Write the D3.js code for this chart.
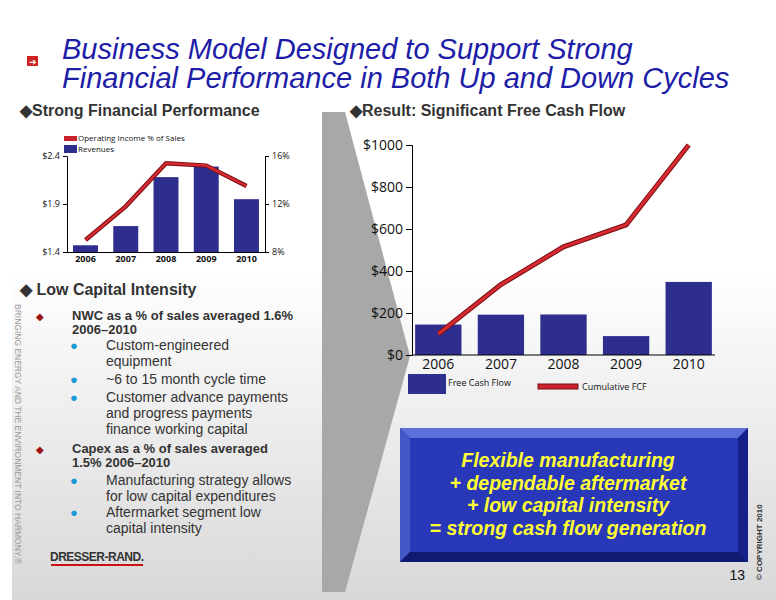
<!DOCTYPE html>
<html><head><meta charset="utf-8">
<script src="https://cdn.jsdelivr.net/npm/d3@7"></script>
<style>body{margin:0;background:#fff;font-family:"Liberation Sans",Arial,sans-serif}</style>
</head><body>
<script>
var years = ["2006", "2007", "2008", "2009", "2010"];
var revenues = [1.47, 1.67, 2.18, 2.29, 1.95];
var opIncomePct = [9.0, 11.8, 15.4, 15.2, 13.5];
var freeCashFlow = [145, 192, 193, 90, 348];
var cumulativeFCF = [100, 335, 515, 620, 1000];
var leftTicks = [1.4, 1.9, 2.4];
var rightTicks = [8, 12, 16];
var fcfTicks = [0, 200, 400, 600, 800, 1000];

var W = 776, H = 600;
var svg = d3.select("body").append("svg").attr("width", W).attr("height", H);
var defs = svg.append("defs");
var bg = defs.append("linearGradient").attr("id", "bg").attr("x1", 0).attr("y1", 0).attr("x2", 0).attr("y2", 1);
bg.append("stop").attr("offset", "0.45").attr("stop-color", "#ffffff");
bg.append("stop").attr("offset", "1").attr("stop-color", "#d8d8d8");
svg.append("rect").attr("width", W).attr("height", H).attr("fill", "url(#bg)");
svg.append("rect").attr("x", 0).attr("y", 0).attr("width", 12).attr("height", H).attr("fill", "#fff");

// grey arrow
svg.append("polygon").attr("points", "322,112 345,112 410,356 345,592 322,592").attr("fill", "#a8a8a8");

// title
svg.append("rect").attr("x", 27).attr("y", 56).attr("width", 11).attr("height", 10).attr("fill", "#cc2222");
svg.append("text").attr("x", 29).attr("y", 65).attr("font-size", 9).attr("fill", "#fff").text("➔");
var title = svg.append("text").attr("font-size", 29).attr("font-style", "italic").attr("fill", "#1d1da8");
title.append("tspan").attr("x", 62).attr("y", 59).text("Business Model Designed to Support Strong");
title.append("tspan").attr("x", 62).attr("y", 88).text("Financial Performance in Both Up and Down Cycles");

function heading(x, y, t) {
  svg.append("text").attr("x", x).attr("y", y).attr("font-size", 16).attr("font-weight", "bold").attr("fill", "#333").text("◆" + t);
}
heading(20, 116, "Strong Financial Performance");
heading(350, 116, "Result: Significant Free Cash Flow");
heading(20, 295, " Low Capital Intensity");

// left chart
var lx = d3.scaleBand().domain(years).range([67, 265]).paddingInner(0.38).paddingOuter(0.15);
var ly = d3.scaleLinear().domain([1.4, 2.4]).range([252, 156]);
var ry = d3.scaleLinear().domain([8, 16]).range([252, 156]);
var lc = svg.append("g").attr("font-family", "'Open Sans',sans-serif");
lc.selectAll("rect.rev").data(revenues).enter().append("rect")
  .attr("x", function(d, i) { return lx(years[i]); }).attr("width", lx.bandwidth())
  .attr("y", function(d) { return ly(d); }).attr("height", function(d) { return 252 - ly(d); })
  .attr("fill", "#2e2e8e");
var ga = lc.append("g").attr("transform", "translate(67,0)").call(d3.axisLeft(ly).tickValues(leftTicks).tickFormat(function(d) { return "$" + d; }).tickSize(4));
var gr = lc.append("g").attr("transform", "translate(265,0)").call(d3.axisRight(ry).tickValues(rightTicks).tickFormat(function(d) { return d + "%"; }).tickSize(4));
var gb = lc.append("g").attr("transform", "translate(0,252)").call(d3.axisBottom(lx).tickSize(0));
[ga, gr, gb].forEach(function(g) { g.attr("font-family", null); g.selectAll("text").attr("font-size", 9).attr("fill", "#111"); });
gb.selectAll("text").attr("font-weight", "bold").attr("dy", "0.8em");
var opLine = d3.line().x(function(d, i) { return lx(years[i]) + lx.bandwidth() / 2; }).y(function(d) { return ry(d); });
lc.append("path").datum(opIncomePct).attr("d", opLine).attr("fill", "none").attr("stroke", "#7a0f14").attr("stroke-width", 4.5);
lc.append("path").datum(opIncomePct).attr("d", opLine).attr("fill", "none").attr("stroke", "#d42a30").attr("stroke-width", 2.5);
lc.append("rect").attr("x", 64).attr("y", 136).attr("width", 13).attr("height", 5).attr("fill", "#c8232b");
lc.append("text").attr("x", 78).attr("y", 141).attr("font-size", 8).attr("fill", "#111").text("Operating Income % of Sales");
lc.append("rect").attr("x", 64).attr("y", 145).attr("width", 13).attr("height", 8).attr("fill", "#2e2e8e");
lc.append("text").attr("x", 78).attr("y", 152).attr("font-size", 8).attr("fill", "#111").text("Revenues");

// right chart
var fx = d3.scaleBand().domain(years).range([412, 715]).paddingInner(0.26).paddingOuter(0.05);
var fy = d3.scaleLinear().domain([0, 1000]).range([355, 145]);
var rc = svg.append("g").attr("font-family", "'Open Sans',sans-serif");
rc.selectAll("rect.fcf").data(freeCashFlow).enter().append("rect")
  .attr("x", function(d, i) { return fx(years[i]); }).attr("width", fx.bandwidth())
  .attr("y", function(d) { return fy(d); }).attr("height", function(d) { return 355 - fy(d); })
  .attr("fill", "#2e2e8e");
var fa = rc.append("g").attr("transform", "translate(412,0)").call(d3.axisLeft(fy).tickValues(fcfTicks).tickFormat(function(d) { return "$" + d; }).tickSize(6));
var fb = rc.append("g").attr("transform", "translate(0,355)").call(d3.axisBottom(fx).tickSize(0));
fb.select(".domain").attr("d", "M412,0H715");
[fa, fb].forEach(function(g) { g.attr("font-family", null); g.selectAll("text").attr("font-size", 14).attr("fill", "#111"); });
fb.selectAll("text").attr("dy", "0.75em");
var cumLine = d3.line().x(function(d, i) { return fx(years[i]) + fx.bandwidth() / 2; }).y(function(d) { return fy(d); });
rc.append("path").datum(cumulativeFCF).attr("d", cumLine).attr("fill", "none").attr("stroke", "#7a0f14").attr("stroke-width", 5);
rc.append("path").datum(cumulativeFCF).attr("d", cumLine).attr("fill", "none").attr("stroke", "#d42a30").attr("stroke-width", 3);
rc.append("rect").attr("x", 408).attr("y", 374).attr("width", 38).attr("height", 20).attr("fill", "#2e2e8e");
rc.append("text").attr("x", 448).attr("y", 386).attr("font-size", 9).attr("fill", "#111").text("Free Cash Flow");
rc.append("rect").attr("x", 538).attr("y", 384).attr("width", 40).attr("height", 5).attr("fill", "#c8232b").attr("stroke", "#7a0f14");
rc.append("text").attr("x", 582).attr("y", 390).attr("font-size", 9).attr("fill", "#111").text("Cumulative FCF");

// bullets
var bullets = [
  [true, 320, ["NWC as a % of sales averaged 1.6%", "2006–2010"]],
  [false, 350, ["Custom-engineered", "equipment"]],
  [false, 384, ["~6 to 15 month cycle time"]],
  [false, 402, ["Customer advance payments", "and progress payments", "finance working capital"]],
  [true, 453, ["Capex as a % of sales averaged", "1.5% 2006–2010"]],
  [false, 485, ["Manufacturing strategy allows", "for low capital expenditures"]],
  [false, 517, ["Aftermarket segment low", "capital intensity"]]
];
bullets.forEach(function(b) {
  var main = b[0];
  svg.append("text").attr("x", main ? 36 : 70).attr("y", b[1]).attr("font-size", main ? 10 : 13)
    .attr("fill", main ? "#a01010" : "#1a9ad6").text(main ? "◆" : "●");
  var t = svg.append("text").attr("font-size", main ? 13 : 14).attr("font-weight", main ? "bold" : "normal").attr("fill", "#333");
  b[2].forEach(function(s, i) { t.append("tspan").attr("x", main ? 72 : 106).attr("y", b[1] + i * (main ? 14 : 16)).text(s); });
});

// vertical tagline
svg.append("text").attr("transform", "translate(15,304) rotate(90)").attr("font-size", 8.5).attr("fill", "#999")
  .text("BRINGING ENERGY AND THE ENVIRONMENT INTO HARMONY.®");

// logo
svg.append("text").attr("x", 50).attr("y", 561).attr("font-size", 12).attr("font-weight", "bold").attr("fill", "#333").attr("letter-spacing", -0.5).text("DRESSER-RAND.");
svg.append("rect").attr("x", 51).attr("y", 564).attr("width", 92).attr("height", 2).attr("fill", "#cc1111");

// blue box
var bx = 400, by = 428, bw = 348, bh = 134, e = 10;
svg.append("rect").attr("x", bx).attr("y", by).attr("width", bw).attr("height", bh).attr("fill", "#1e2ea8");
svg.append("polygon").attr("points", [[bx, by], [bx + bw, by], [bx + bw - e, by + e], [bx + e, by + e]].join(" ")).attr("fill", "#5d6fd8");
svg.append("polygon").attr("points", [[bx, by], [bx + e, by + e], [bx + e, by + bh - e], [bx, by + bh]].join(" ")).attr("fill", "#4657c8");
svg.append("polygon").attr("points", [[bx, by + bh], [bx + e, by + bh - e], [bx + bw - e, by + bh - e], [bx + bw, by + bh]].join(" ")).attr("fill", "#101a70");
svg.append("polygon").attr("points", [[bx + bw, by], [bx + bw, by + bh], [bx + bw - e, by + bh - e], [bx + bw - e, by + e]].join(" ")).attr("fill", "#15208a");
svg.append("rect").attr("x", bx + e).attr("y", by + e).attr("width", bw - 2 * e).attr("height", bh - 2 * e).attr("fill", "#2838b8");
var box = ["Flexible manufacturing", "+ dependable aftermarket", "+ low capital intensity", "= strong cash flow generation"];
box.forEach(function(s, i) {
  svg.append("text").attr("x", bx + bw / 2 - 6).attr("y", 467 + i * 22.5).attr("text-anchor", "middle")
    .attr("font-size", 19.5).attr("font-weight", "bold").attr("font-style", "italic").attr("fill", "#ffff33").text(s);
});

svg.append("text").attr("transform", "translate(762,580) rotate(-90)").attr("font-size", 8).attr("font-weight", "bold").attr("fill", "#333").text("© COPYRIGHT 2010");
svg.append("text").attr("x", 745).attr("y", 580).attr("text-anchor", "end").attr("font-size", 14).attr("fill", "#111").text("13");
</script>
</body></html>
